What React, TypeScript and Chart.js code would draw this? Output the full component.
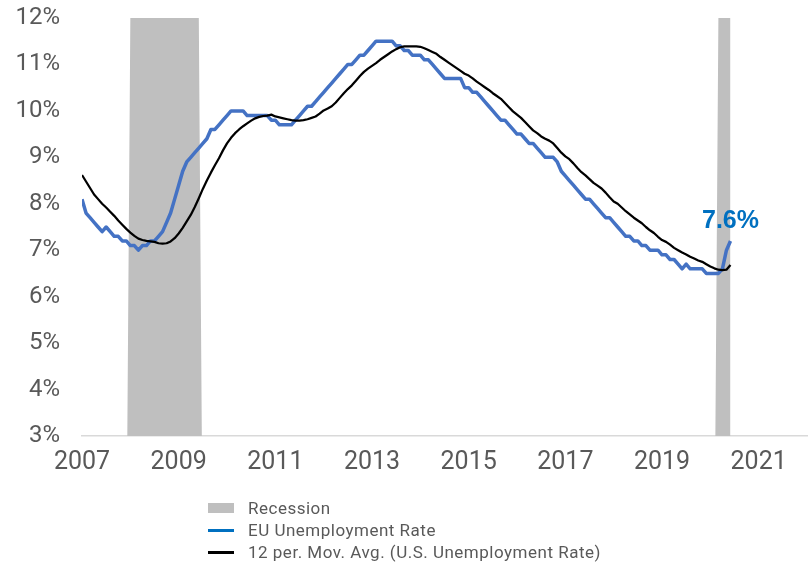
import React, { useEffect, useRef } from "react";
import { Chart, registerables } from "chart.js";

Chart.register(...registerables);

// ---- DATA ----
const startYear = 2007; // first month: Jan 2007, monthly to Jun 2020
const xTickYears = [2007, 2009, 2011, 2013, 2015, 2017, 2019, 2021];
const yTicks = [3, 4, 5, 6, 7, 8, 9, 10, 11, 12];
const seriesLabels = ["Recession", "EU Unemployment Rate", "12 per. Mov. Avg. (U.S. Unemployment Rate)"];
const lastLabel = "7.6%";
const recessions = [
  ["2008-01", "2009-06"],
  ["2020-03", "2020-06"],
];
const recessionTop = 12;

const euRate = [
  8.1, 7.8, 7.7, 7.6, 7.5, 7.4, 7.5, 7.4, 7.3, 7.3, 7.2, 7.2,
  7.1, 7.1, 7.0, 7.1, 7.1, 7.2, 7.2, 7.3, 7.4, 7.6, 7.8, 8.1,
  8.4, 8.7, 8.9, 9.0, 9.1, 9.2, 9.3, 9.4, 9.6, 9.6, 9.7, 9.8,
  9.9, 10.0, 10.0, 10.0, 10.0, 9.9, 9.9, 9.9, 9.9, 9.9, 9.9, 9.8,
  9.8, 9.7, 9.7, 9.7, 9.7, 9.8, 9.9, 10.0, 10.1, 10.1, 10.2, 10.3,
  10.4, 10.5, 10.6, 10.7, 10.8, 10.9, 11.0, 11.0, 11.1, 11.2, 11.2, 11.3,
  11.4, 11.5, 11.5, 11.5, 11.5, 11.5, 11.4, 11.4, 11.3, 11.3, 11.2, 11.2,
  11.2, 11.1, 11.1, 11.0, 10.9, 10.8, 10.7, 10.7, 10.7, 10.7, 10.7, 10.5,
  10.5, 10.4, 10.4, 10.3, 10.2, 10.1, 10.0, 9.9, 9.8, 9.8, 9.7, 9.6,
  9.5, 9.5, 9.4, 9.3, 9.3, 9.2, 9.1, 9.0, 9.0, 9.0, 8.9, 8.7,
  8.6, 8.5, 8.4, 8.3, 8.2, 8.1, 8.1, 8.0, 7.9, 7.8, 7.7, 7.7,
  7.6, 7.5, 7.4, 7.3, 7.3, 7.2, 7.2, 7.1, 7.1, 7.0, 7.0, 7.0,
  6.9, 6.9, 6.8, 6.8, 6.7, 6.6, 6.7, 6.6, 6.6, 6.6, 6.6, 6.5,
  6.5, 6.5, 6.5, 6.6, 7.0, 7.2,
];

const usMovAvg = [
  8.62, 8.48, 8.34, 8.2, 8.1, 8.0, 7.92, 7.83, 7.74, 7.64, 7.55, 7.46,
  7.38, 7.31, 7.25, 7.22, 7.2, 7.19, 7.18, 7.15, 7.14, 7.15, 7.19, 7.26,
  7.36, 7.48, 7.62, 7.76, 7.93, 8.12, 8.32, 8.5, 8.67, 8.83, 8.98, 9.15,
  9.3, 9.42, 9.52, 9.6, 9.67, 9.73, 9.79, 9.84, 9.87, 9.89, 9.9, 9.92,
  9.88, 9.86, 9.84, 9.82, 9.8, 9.79, 9.79, 9.8, 9.82, 9.85, 9.88, 9.94,
  10.01, 10.05, 10.1, 10.18, 10.28, 10.38, 10.47, 10.55, 10.65, 10.75, 10.84, 10.91,
  10.97, 11.03, 11.1, 11.16, 11.22, 11.28, 11.33, 11.37, 11.39, 11.39, 11.39, 11.39,
  11.38, 11.35, 11.31, 11.27, 11.23, 11.16, 11.1, 11.04, 10.98, 10.92, 10.86, 10.8,
  10.76, 10.7, 10.63, 10.57, 10.51, 10.45, 10.38, 10.32, 10.26, 10.17, 10.08, 9.99,
  9.92, 9.85, 9.76, 9.67, 9.58, 9.52, 9.45, 9.4, 9.36, 9.3, 9.2, 9.1,
  9.02, 8.96, 8.87, 8.77, 8.68, 8.61, 8.53, 8.45, 8.39, 8.33, 8.24, 8.14,
  8.05, 8.0, 7.92, 7.84, 7.77, 7.7, 7.64, 7.58, 7.5, 7.43, 7.37, 7.29,
  7.22, 7.18, 7.12, 7.05, 7.0, 6.95, 6.91, 6.86, 6.82, 6.78, 6.75, 6.7,
  6.65, 6.61, 6.58, 6.57, 6.58, 6.68,
];

// ---- STYLE ----
const TICK_FONT = "Roboto, 'Liberation Sans', sans-serif";
const TEXT_GREY = "#595959";
const REC_GREY = "#BFBFBF";
const EU_BLUE = "#4472C4";
const LEGEND_BLUE = "#0070C0";
const LABEL_BLUE = "#0070C0";

const monthIndex = (s: string) => {
  const [y, m] = s.split("-").map(Number);
  return (y - startYear) * 12 + (m - 1);
};
const xOf = (i: number) => startYear + i / 12;

const recessionSeries = euRate.map((_, i) =>
  recessions.some(([a, b]) => i >= monthIndex(a) && i <= monthIndex(b)) ? recessionTop : 0
);

const lastLabelPlugin = {
  id: "lastLabel",
  afterDatasetsDraw(chart: any) {
    const meta = chart.getDatasetMeta(1);
    const pts = meta.data;
    if (!pts || !pts.length) return;
    const p = pts[pts.length - 1];
    const ctx = chart.ctx;
    ctx.save();
    ctx.font = "bold 25px 'Liberation Sans', Arial, sans-serif";
    ctx.fillStyle = LABEL_BLUE;
    ctx.textAlign = "center";
    ctx.textBaseline = "alphabetic";
    ctx.fillText(lastLabel, p.x, p.y - 13);
    ctx.restore();
  },
};

export default function App() {
  const ref = useRef<HTMLCanvasElement>(null);

  useEffect(() => {
    if (!ref.current) return;
    const chart = new Chart(ref.current, {
      type: "line",
      data: {
        datasets: [
          {
            label: seriesLabels[0],
            data: recessionSeries.map((v, i) => ({ x: xOf(i), y: v })),
            borderWidth: 0,
            backgroundColor: REC_GREY,
            fill: "origin",
            pointRadius: 0,
            tension: 0,
            order: 3,
          },
          {
            label: seriesLabels[1],
            data: euRate.map((v, i) => ({ x: xOf(i), y: v })),
            borderColor: EU_BLUE,
            borderWidth: 3.5,
            pointRadius: 0,
            tension: 0,
            fill: false,
            borderJoinStyle: "round",
            order: 2,
          },
          {
            label: seriesLabels[2],
            data: usMovAvg.map((v, i) => ({ x: xOf(i), y: v })),
            borderColor: "#000000",
            borderWidth: 2.25,
            pointRadius: 0,
            tension: 0,
            fill: false,
            borderJoinStyle: "round",
            order: 1,
          },
        ],
      },
      options: {
        responsive: false,
        animation: false,
        devicePixelRatio: 1,
        layout: { padding: { top: 18, right: 2, left: 0, bottom: 0 } },
        plugins: {
          legend: { display: false },
          tooltip: { enabled: false },
        },
        scales: {
          x: {
            type: "linear",
            min: 2007,
            max: 2022,
            grid: { display: false, drawTicks: false },
            border: { display: true, color: "#D9D9D9", width: 1.5 },
            afterBuildTicks: (axis: any) => {
              axis.ticks = xTickYears.map((v) => ({ value: v }));
            },
            afterFit: (scale: any) => {
              scale.height = 131;
              scale.paddingLeft = 0;
              scale.paddingRight = 0;
            },
            ticks: {
              autoSkip: false,
              maxRotation: 0,
              padding: 12,
              color: TEXT_GREY,
              font: { family: TICK_FONT, size: 25 },
              callback: (v: any) => String(v),
            },
          },
          y: {
            type: "linear",
            min: 3,
            max: 12,
            grid: { display: false, drawTicks: false },
            border: { display: false },
            afterBuildTicks: (axis: any) => {
              axis.ticks = yTicks.map((v) => ({ value: v }));
            },
            afterFit: (scale: any) => {
              scale.width = 82;
              scale.paddingTop = 0;
              scale.paddingBottom = 0;
            },
            ticks: {
              padding: 22,
              color: TEXT_GREY,
              font: { family: TICK_FONT, size: 24 },
              callback: (v: any) => v + "%",
            },
          },
        },
      },
      plugins: [lastLabelPlugin],
    });
    return () => chart.destroy();
  }, []);

  const legendItems = [
    { label: seriesLabels[0], kind: "box", color: REC_GREY },
    { label: seriesLabels[1], kind: "line", color: LEGEND_BLUE },
    { label: seriesLabels[2], kind: "line", color: "#000000" },
  ];

  return (
    <div style={{ position: "absolute", left: 0, top: 0, width: 809, height: 567, background: "#fff" }}>
      <canvas ref={ref} width={809} height={567} style={{ position: "absolute", left: 0, top: 0, width: 809, height: 567 }} />
      <div style={{ position: "absolute", left: 208, top: 497, display: "flex", flexDirection: "column" }}>
        {legendItems.map((it) => (
          <div key={it.label} style={{ display: "flex", alignItems: "center", height: 22 }}>
            <div style={{ width: 26, display: "flex", alignItems: "center", justifyContent: "center" }}>
              {it.kind === "box" ? (
                <div style={{ width: 26, height: 10, background: it.color }} />
              ) : (
                <div style={{ width: 26, height: 3, background: it.color }} />
              )}
            </div>
            <span
              style={{
                marginLeft: 14,
                fontFamily: "Roboto, 'Liberation Sans', sans-serif",
                fontSize: 17,
                letterSpacing: 0.5,
                color: TEXT_GREY,
                whiteSpace: "nowrap",
                lineHeight: "22px",
              }}
            >
              {it.label}
            </span>
          </div>
        ))}
      </div>
    </div>
  );
}
